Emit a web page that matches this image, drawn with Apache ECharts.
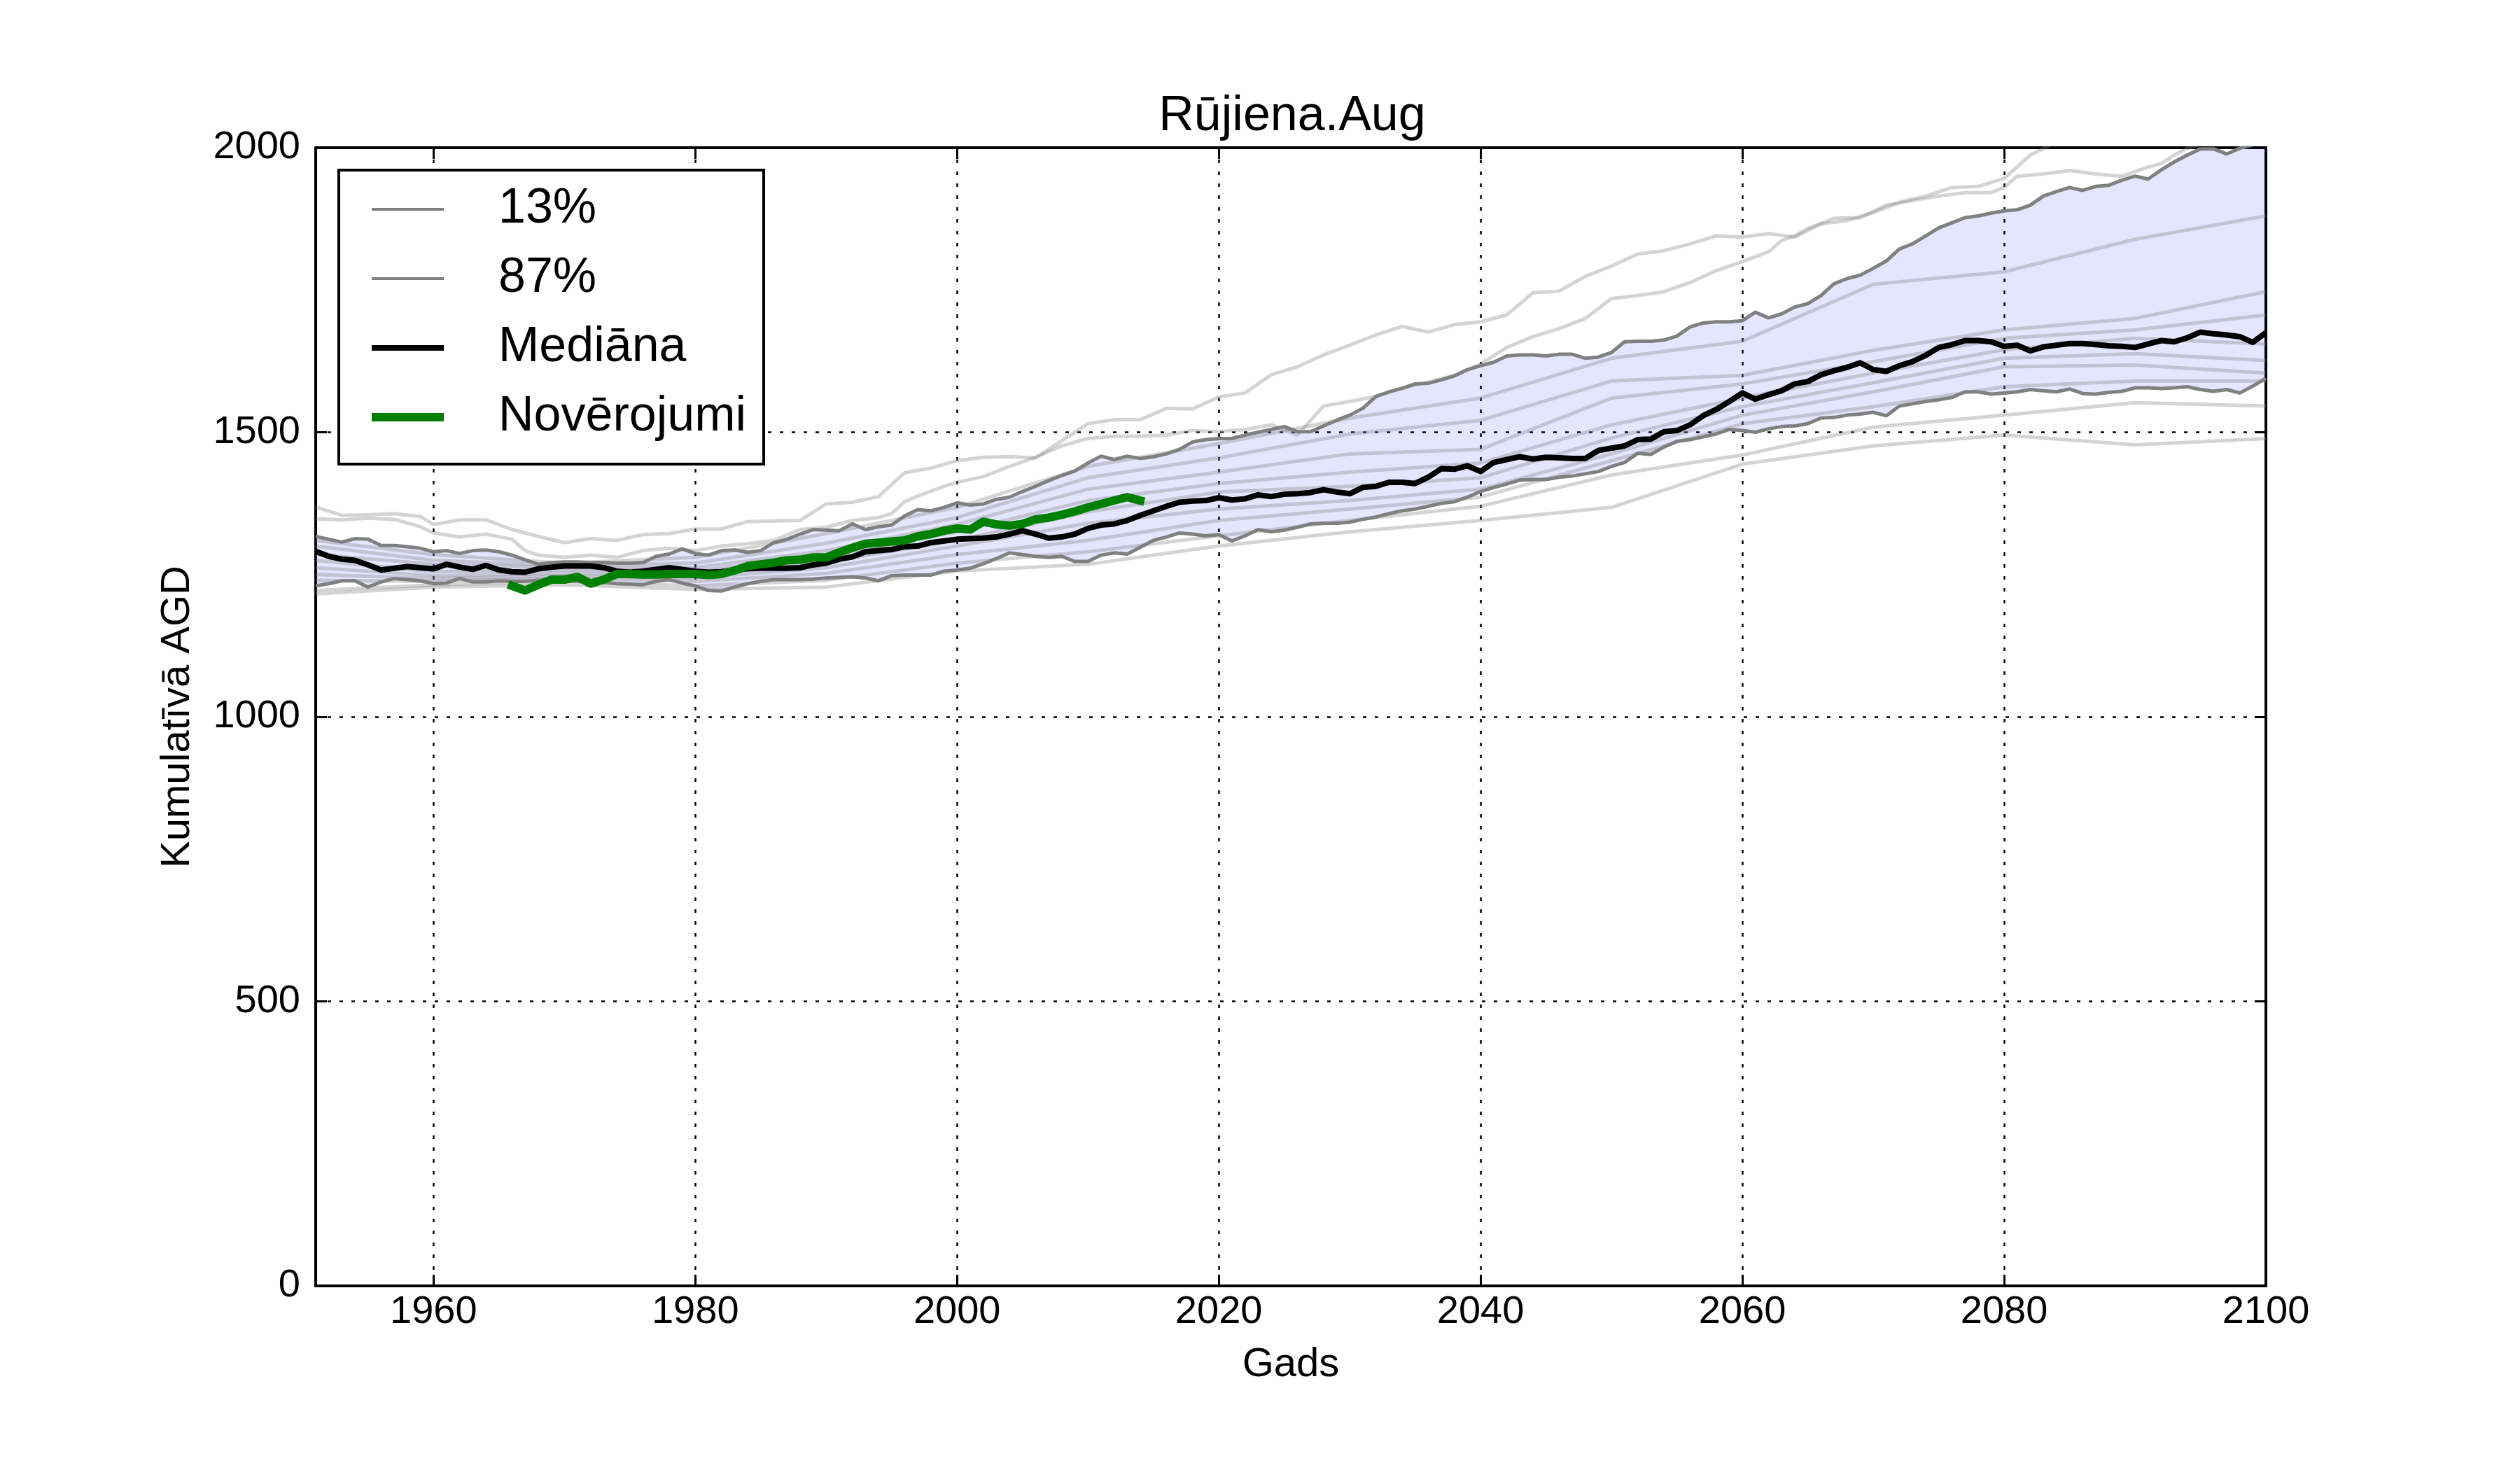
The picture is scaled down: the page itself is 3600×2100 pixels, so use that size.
<!DOCTYPE html>
<html><head><meta charset="utf-8">
<script src="https://cdn.jsdelivr.net/npm/echarts@6/dist/echarts.min.js"></script>
<style>html,body{margin:0;padding:0;background:#fff}#c{width:3600px;height:2100px}</style>
</head><body><div id="c"></div>
<script>
// ---------- DATA ----------
const firstYear = 1951, lastYear = 2100;
const years = [];
for (let y = firstYear; y <= lastYear; y++) years.push(y);

const median = [1291,1282,1277,1275,1267,1258,1261,1264,1262,1260,
1268,1263,1259,1266,1258,1255,1254,1260,1263,1265,
1265,1265,1262,1256,1254,1256,1259,1262,1259,1256,
1254,1255,1258,1260,1261,1261,1261,1262,1267,1270,
1277,1281,1290,1292,1294,1299,1300,1306,1309,1312,
1313,1314,1316,1321,1327,1321,1314,1316,1321,1331,
1337,1339,1345,1354,1362,1370,1377,1379,1380,1385,
1381,1383,1390,1387,1391,1392,1394,1399,1395,1392,
1403,1405,1412,1412,1410,1421,1436,1435,1441,1431,
1447,1452,1457,1453,1456,1455,1454,1454,1468,1472,
1476,1487,1488,1501,1503,1513,1529,1540,1554,1569,
1558,1566,1573,1585,1589,1601,1608,1614,1622,1610,
1607,1617,1624,1635,1649,1654,1661,1661,1659,1651,
1653,1643,1650,1653,1656,1656,1654,1652,1651,1649,
1655,1661,1659,1666,1676,1673,1671,1668,1658,1675];

const p87 = [1317,1312,1307,1313,1312,1301,1301,1299,1296,1290,
1292,1287,1292,1293,1290,1284,1276,1268,1271,1272,
1272,1271,1271,1270,1270,1271,1282,1286,1295,1287,
1284,1292,1293,1289,1292,1306,1312,1321,1329,1328,
1327,1339,1329,1334,1337,1353,1364,1362,1368,1376,
1372,1374,1382,1386,1396,1405,1415,1424,1432,1446,
1458,1452,1458,1454,1457,1462,1470,1483,1487,1489,
1489,1495,1500,1505,1510,1501,1501,1511,1521,1530,
1542,1563,1571,1577,1585,1586,1592,1599,1610,1617,
1623,1634,1636,1636,1634,1637,1637,1630,1632,1640,
1659,1660,1660,1662,1669,1685,1692,1694,1694,1696,
1711,1701,1708,1720,1726,1740,1761,1770,1776,1788,
1801,1822,1831,1845,1859,1868,1877,1880,1885,1889,
1891,1899,1915,1923,1930,1925,1932,1934,1943,1950,
1945,1961,1975,1987,1998,1998,1989,1999,2005,2015];

const p13 = [1230,1234,1239,1239,1228,1237,1243,1241,1239,1234,
1235,1243,1237,1237,1239,1238,1238,1240,1240,1239,
1238,1236,1236,1234,1233,1232,1238,1241,1235,1230,
1222,1221,1228,1234,1238,1241,1241,1241,1242,1244,
1245,1246,1244,1239,1248,1249,1249,1249,1256,1258,
1261,1269,1278,1288,1285,1282,1280,1282,1273,1273,
1284,1288,1286,1298,1310,1316,1323,1321,1318,1320,
1309,1318,1329,1325,1328,1333,1339,1340,1340,1342,
1347,1351,1357,1362,1365,1370,1375,1378,1386,1396,
1403,1409,1416,1417,1417,1421,1423,1427,1431,1440,
1447,1463,1461,1474,1484,1487,1492,1497,1505,1503,
1500,1506,1510,1511,1515,1525,1526,1530,1532,1535,
1529,1546,1550,1554,1557,1561,1571,1571,1567,1569,
1571,1575,1573,1571,1576,1568,1567,1570,1572,1578,
1578,1577,1578,1580,1575,1572,1575,1569,1581,1595];

const obsFirstYear = 1966;
const observed = [1230,1222,1232,1241,1241,1246,1234,1241,1251,1251,
1250,1250,1251,1251,1251,1249,1251,1257,1265,1268,
1271,1275,1276,1280,1280,1289,1297,1304,1306,1308,
1310,1317,1321,1327,1331,1329,1343,1338,1336,1339,
1347,1350,1355,1361,1368,1374,1380,1386,1380];

// ensemble members: [year, value] pairs
const member1 = [[1951,1369],[1953,1354],[1955,1355],[1957,1357],[1959,1352],[1960,1338],[1962,1346],[1964,1346],[1966,1329],[1968,1317],[1970,1306],[1972,1313],[1974,1310],[1976,1320],[1978,1322],[1980,1330],[1982,1330],[1984,1343],[1986,1344],[1988,1345],[1990,1374],[1992,1377],[1994,1387],[1996,1429],[1998,1437],[2000,1450],[2002,1456],[2004,1457],[2006,1455],[2008,1485],[2010,1515],[2012,1522],[2014,1522],[2016,1542],[2018,1541],[2020,1562],[2022,1569],[2024,1601],[2026,1615],[2028,1636],[2030,1653],[2032,1671],[2034,1686],[2036,1676],[2038,1689],[2040,1694],[2042,1706],[2044,1745],[2046,1748],[2048,1774],[2050,1792],[2052,1813],[2054,1819],[2056,1831],[2058,1845],[2060,1843],[2062,1849],[2064,1843],[2066,1866],[2068,1872],[2070,1886],[2072,1904],[2074,1915],[2076,1930],[2078,1932],[2080,1946],[2082,1987],[2084,2010],[2090,2040],[2100,2060]];
const member2 = [[1951,1348],[1953,1346],[1955,1349],[1957,1347],[1959,1334],[1960,1323],[1962,1316],[1964,1321],[1966,1312],[1967,1292],[1968,1284],[1970,1280],[1972,1284],[1974,1280],[1976,1292],[1978,1296],[1980,1292],[1982,1300],[1984,1304],[1986,1310],[1988,1329],[1990,1333],[1992,1345],[1994,1350],[1995,1357],[1996,1378],[1997,1388],[1999,1405],[2000,1412],[2002,1422],[2004,1440],[2006,1456],[2008,1476],[2010,1489],[2012,1493],[2014,1493],[2016,1495],[2018,1503],[2020,1501],[2022,1505],[2024,1513],[2026,1495],[2028,1546],[2030,1554],[2032,1563],[2034,1578],[2036,1588],[2038,1600],[2040,1620],[2042,1649],[2044,1668],[2046,1682],[2048,1700],[2050,1735],[2052,1740],[2054,1747],[2056,1763],[2058,1784],[2060,1800],[2062,1817],[2063,1837],[2064,1845],[2065,1858],[2067,1876],[2069,1877],[2071,1899],[2073,1907],[2075,1915],[2077,1921],[2079,1921],[2080,1930],[2081,1950],[2083,1954],[2085,1960],[2087,1954],[2089,1950],[2091,1966],[2092,1972],[2093,1987],[2094,1999],[2097,2020],[2100,2035]];

const memberYears = [1951,1960,1970,1980,1990,2000,2010,2020,2030,2040,2050,2060,2070,2080,2090,2100];
const member3  = [1310,1285,1270,1280,1322,1368,1440,1480,1525,1560,1630,1660,1760,1782,1839,1880];
const member4  = [1300,1275,1266,1270,1305,1350,1420,1455,1497,1521,1590,1600,1644,1680,1700,1747];
const member5  = [1285,1268,1262,1262,1292,1338,1400,1430,1462,1470,1560,1585,1624,1665,1680,1706];
const member6  = [1275,1255,1258,1256,1283,1325,1380,1410,1430,1446,1513,1560,1604,1645,1665,1655];
const member7  = [1262,1248,1252,1250,1272,1310,1360,1395,1405,1420,1490,1545,1587,1630,1638,1626];
const member8  = [1250,1243,1248,1244,1262,1300,1340,1365,1380,1400,1462,1530,1571,1615,1618,1604];
const member9  = [1240,1238,1244,1238,1252,1285,1310,1345,1365,1386,1450,1515,1545,1580,1590,1590];
const member10 = [1222,1232,1238,1230,1240,1270,1290,1318,1345,1370,1425,1460,1509,1530,1552,1546];
const member11 = [1216,1228,1232,1224,1228,1256,1268,1300,1325,1345,1368,1444,1476,1495,1478,1489];

const xTicks = [1960,1980,2000,2020,2040,2060,2080,2100];
const legendNames = ['13%','87%','Mediāna','Novērojumi'];

// ---------- CHART ----------
const FONT = "'Liberation Sans', Arial, sans-serif";
const chart = echarts.init(document.getElementById('c'), null, {width:3600, height:2100, renderer:'canvas'});

const pairs = (xs, vs) => vs.map((v, i) => [xs[i], v]);
const obsYears = observed.map((_, i) => obsFirstYear + i);
const plain = v => String(v);

const gridLine = {show:true, lineStyle:{color:'#000', width:2.5, type:[5,12]}};
const frameLine = {show:true, onZero:false, lineStyle:{color:'#000', width:4}};
const tickStyle = {color:'#000', width:3};

const memberStyle = {color:'rgba(128,128,128,0.34)', width:5, join:'round', cap:'butt'};
const memberSeries = [member1, member2].map(m => ({
  type:'line', data:m, symbol:'none', silent:true, lineStyle:memberStyle, z:3
})).concat([member3,member4,member5,member6,member7,member8,member9,member10,member11].map(m => ({
  type:'line', data:pairs(memberYears, m), symbol:'none', silent:true, lineStyle:memberStyle, z:3
})));

const bandSeries = {
  type:'custom', silent:true, z:1, clip:true, data:[[firstYear, 0]],
  renderItem: (params, api) => {
    const pts = [];
    for (let i = 0; i < years.length; i++) pts.push(api.coord([years[i], p87[i]]));
    for (let i = years.length - 1; i >= 0; i--) pts.push(api.coord([years[i], p13[i]]));
    const cs = params.coordSys;
    return {type:'polygon', shape:{points:pts}, style:{fill:'rgba(0,0,255,0.1)', stroke:null},
      clipPath:{type:'rect', shape:{x:cs.x, y:cs.y, width:cs.width, height:cs.height}}};
  }
};

const option = {
  animation:false,
  backgroundColor:'#fff',
  title:{text:'Rūjiena.Aug', left:1846, top:132, textAlign:'center', padding:0,
    textStyle:{fontFamily:FONT, fontSize:70, fontWeight:'normal', color:'#000'}},
  grid:{left:451, top:211, width:2786, height:1626, containLabel:false},
  legend:{
    data:[
      {name:'13%', icon:'path://M0,0H103V4H0Z'},
      {name:'87%', icon:'path://M0,0H103V4H0Z'},
      {name:'Mediāna', icon:'path://M0,0H103V8H0Z'},
      {name:'Novērojumi', icon:'path://M0,0H103V12H0Z'}
    ],
    orient:'vertical', left:484, top:243, symbolKeepAspect:true,
    padding:[16,25,27,47], itemWidth:103, itemHeight:20, itemGap:19,
    backgroundColor:'#fff', borderColor:'#000', borderWidth:4, borderRadius:0,
    selectedMode:false, z:20,
    textStyle:{fontFamily:FONT, fontSize:70, color:'#000', padding:[0,0,0,73], lineHeight:80}
  },
  xAxis:[
    {type:'value', min:firstYear, max:lastYear, position:'bottom',
      axisLine:frameLine,
      axisTick:{show:true, inside:true, length:16, customValues:xTicks, lineStyle:tickStyle},
      axisLabel:{show:true, customValues:xTicks, formatter:plain, margin:10, fontSize:56, fontFamily:FONT, color:'#000'},
      splitLine:gridLine},
    {type:'value', min:firstYear, max:lastYear, position:'top',
      axisLine:frameLine,
      axisTick:{show:true, inside:true, length:16, customValues:xTicks, lineStyle:tickStyle},
      axisLabel:{show:false}, splitLine:{show:false}}
  ],
  yAxis:[
    {type:'value', min:0, max:2000, interval:500, position:'left',
      axisLine:frameLine,
      axisTick:{show:true, inside:true, length:16, lineStyle:tickStyle},
      axisLabel:{show:true, formatter:plain, margin:22, fontSize:56, fontFamily:FONT, color:'#000'},
      splitLine:gridLine},
    {type:'value', min:0, max:2000, interval:500, position:'right',
      axisLine:frameLine,
      axisTick:{show:true, inside:true, length:16, lineStyle:tickStyle},
      axisLabel:{show:false}, splitLine:{show:false}}
  ],
  graphic:[
    {type:'text', x:1844, y:1950, z:10, style:{text:'Gads', fontSize:58, fontFamily:FONT, fill:'#000', align:'center', verticalAlign:'middle'}},
    {type:'text', x:254, y:1024, rotation:Math.PI/2, z:10, style:{text:'Kumulatīvā AGD', fontSize:58, fontFamily:FONT, fill:'#000', align:'center', verticalAlign:'middle'}}
  ],
  series:[bandSeries].concat(memberSeries).concat([
    {type:'line', name:'13%', data:pairs(years, p13), symbol:'none', z:4,
      itemStyle:{color:'#808080'}, lineStyle:{color:'#808080', width:5, join:'round'}},
    {type:'line', name:'87%', data:pairs(years, p87), symbol:'none', z:4,
      itemStyle:{color:'#808080'}, lineStyle:{color:'#808080', width:5, join:'round'}},
    {type:'line', name:'Mediāna', data:pairs(years, median), symbol:'none', z:5,
      itemStyle:{color:'#000'}, lineStyle:{color:'#000', width:8, join:'round'}},
    {type:'line', name:'Novērojumi', data:pairs(obsYears, observed), symbol:'none', z:6,
      itemStyle:{color:'#008000'}, lineStyle:{color:'#008000', width:12, join:'round', cap:'square'}}
  ])
};
chart.setOption(option);
</script>
</body></html>
